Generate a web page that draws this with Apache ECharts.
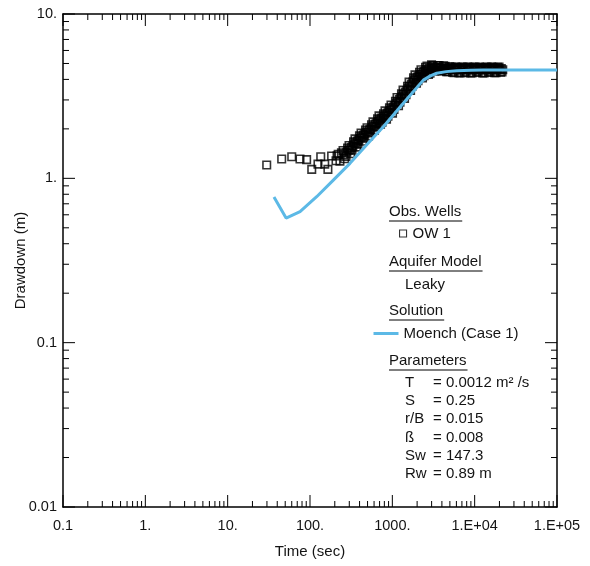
<!DOCTYPE html>
<html><head><meta charset="utf-8">
<script src="https://cdn.jsdelivr.net/npm/echarts@6/dist/echarts.min.js"></script>
<style>html,body{margin:0;padding:0;background:#fff}#c{width:590px;height:566px}</style>
</head><body><div id="c"></div>
<script>
// Observed drawdown, OW 1 (time in sec, drawdown in m)
const timeObs = [29.8, 45.3, 60, 75.6, 91, 105, 125, 135, 151, 165, 183, 207, 220,
  213, 231, 252, 274, 298, 324, 352, 383, 417, 453, 493, 536, 582, 634, 689, 750, 815, 885, 964, 1047,
  1140, 1239, 1349, 1466, 1596, 1734, 1884, 2051, 2228, 2427, 2636, 2871,
  3119, 3388, 3690, 4009, 4365, 4742, 5164, 5610, 6109, 6637, 7211, 7852, 8531, 9290, 10090, 10990,
  11940, 13000, 14130, 15350, 16710, 18160, 19770, 21480,
  241, 263, 286, 311, 338, 367, 399, 435, 472, 514, 559, 607, 661, 719, 782, 850, 923, 1005, 1092,
  1189, 1292, 1407, 1529, 1665, 1809, 1965, 2139, 2324, 2531, 2749, 2995,
  3253, 3534, 3849, 4181, 4553, 4946, 5386, 5851, 6372, 6922, 7521, 8190, 8898, 9689, 10520, 11460,
  12450, 13560, 14740, 16010, 17430, 18940, 20620,
  257, 280, 304, 331, 360, 391, 426, 463, 504, 548, 595, 648, 704, 766, 833, 904, 985, 1070,
  1165, 1266, 1378, 1498, 1630, 1771, 1925, 2095, 2276, 2479, 2693, 2933,
  3186, 3461, 3769, 4095, 4459, 4844, 5275, 5731, 6240, 6780, 7366, 8021, 8714, 9490, 10310, 11230,
  12200, 13280, 14430, 15680, 17070, 18550, 20200, 21940,
  292, 317, 345, 375, 408, 444, 482, 525, 571, 620, 675, 733, 798, 868, 942, 1026, 1115,
  1214, 1319, 1436, 1561, 1699, 1846, 2006, 2183, 2372, 2584, 2806, 3056,
  3320, 3607, 3928, 4268, 4647, 5048, 5497, 5972, 6503, 7065, 7676, 8359, 9081, 9889, 10740, 11700,
  12710, 13840, 15040, 16340, 17790, 19330, 21050];
const drawObs = [1.205, 1.31, 1.354, 1.31, 1.30, 1.134, 1.22, 1.354, 1.22, 1.134, 1.367, 1.28, 1.40,
  1.369, 1.272, 1.476, 1.361, 1.584, 1.483, 1.738, 1.614, 1.889, 1.755, 2.032, 1.888, 2.205, 2.048, 2.398, 2.196, 2.572, 2.389, 2.797, 2.621,
  3.103, 2.907, 3.442, 3.229, 3.850, 3.639, 4.260, 3.929, 4.581, 4.216, 4.819, 4.366,
  4.85, 4.52, 4.86, 4.50, 4.80, 4.45, 4.76, 4.40, 4.74, 4.38, 4.76, 4.42, 4.74, 4.38, 4.76, 4.42,
  4.72, 4.38, 4.76, 4.42, 4.74, 4.40, 4.76, 4.44,
  1.428, 1.315, 1.527, 1.411, 1.666, 1.548, 1.812, 1.683, 1.970, 1.810, 2.120, 1.964, 2.299, 2.136, 2.466, 2.291, 2.682, 2.492, 2.943,
  2.764, 3.264, 3.066, 3.626, 3.429, 4.085, 3.794, 4.411, 4.081, 4.733, 4.293, 4.90,
  4.50, 4.86, 4.52, 4.84, 4.46, 4.78, 4.42, 4.75, 4.40, 4.74, 4.40, 4.76, 4.38, 4.74, 4.42, 4.76,
  4.38, 4.74, 4.42, 4.76, 4.40, 4.74, 4.42,
  1.391, 1.440, 1.493, 1.570, 1.638, 1.708, 1.781, 1.857, 1.916, 1.998, 2.079, 2.167, 2.260, 2.324, 2.424, 2.528, 2.637, 2.774,
  2.925, 3.077, 3.245, 3.417, 3.629, 3.850, 4.016, 4.158, 4.318, 4.461, 4.543, 4.620,
  4.66, 4.68, 4.66, 4.64, 4.62, 4.60, 4.58, 4.57, 4.59, 4.58, 4.56, 4.58, 4.59, 4.57, 4.58, 4.56,
  4.58, 4.59, 4.57, 4.58, 4.56, 4.58, 4.57, 4.58,
  1.483, 1.538, 1.617, 1.687, 1.759, 1.834, 1.913, 1.973, 2.058, 2.141, 2.232, 2.328, 2.394, 2.497, 2.604, 2.716, 2.857,
  3.013, 3.169, 3.342, 3.520, 3.738, 3.966, 4.136, 4.283, 4.448, 4.595, 4.679, 4.759,
  4.74, 4.72, 4.70, 4.68, 4.67, 4.66, 4.66, 4.67, 4.65, 4.66, 4.67, 4.65, 4.66, 4.67, 4.65, 4.66,
  4.67, 4.65, 4.66, 4.67, 4.65, 4.66, 4.66];
// Moench (Case 1) fitted curve
const timeFit = [36.5, 51.2, 75.7, 120.5, 192, 306, 489, 777, 1359, 2377, 2900, 3458, 4500, 6050, 9000, 12600, 100000];
const drawFit = [0.769, 0.573, 0.627, 0.773, 0.976, 1.234, 1.60, 2.06, 2.86, 3.96, 4.20, 4.36, 4.46, 4.52, 4.55, 4.56, 4.56];

const xTickLabels = {"-1":"0.1","0":"1.","1":"10.","2":"100.","3":"1000.","4":"1.E+04","5":"1.E+05"};
const yTickLabels = {"-2":"0.01","-1":"0.1","0":"1.","1":"10."};
const minorMult = [2,3,4,5,6,7,8,9];
const xDecades = [0.1,1,10,100,1000,10000];
const yDecades = [0.01,0.1,1];
const xMajor = [0.1,1,10,100,1000,10000,100000];
const yMajor = [0.01,0.1,1,10];

const headings = ["Obs. Wells", "Aquifer Model", "Solution", "Parameters"];
const headingY = [212, 262, 311, 361];
const modelText = "Leaky";
const paramNames = ["T", "S", "r/B", "ß", "Sw", "Rw"];
const paramValues = ["= 0.0012 m² /s", "= 0.25", "= 0.015", "= 0.008", "= 147.3", "= 0.89 m"];
const paramY = [382.5, 400.5, 419, 437.5, 455.5, 474];

const FONT = "Liberation Sans, Arial, Helvetica, sans-serif";
const TXT = '#141414';

// tick marks: [value, length]
const xTicks = [], yTicks = [];
xMajor.forEach(v => xTicks.push([v, 12]));
yMajor.forEach(v => yTicks.push([v, 12]));
xDecades.forEach(d => minorMult.forEach(m => xTicks.push([+(d*m).toPrecision(3), 6])));
yDecades.forEach(d => minorMult.forEach(m => yTicks.push([+(d*m).toPrecision(3), 6])));

const X0 = 0.1, X1 = 100000, Y0 = 0.01, Y1 = 10;

const ctx = document.createElement('canvas').getContext('2d');
ctx.font = '15px ' + FONT;

const graphics = [];
headings.forEach((h, i) => {
  graphics.push({type:'text', x:389, y:headingY[i], style:{text:h, font:'15px ' + FONT, fill:TXT, verticalAlign:'middle', textVerticalAlign:'middle'}});
  const w = ctx.measureText(h).width;
  graphics.push({type:'line', shape:{x1:389, y1:headingY[i]+9, x2:389+w+1, y2:headingY[i]+9}, style:{stroke:'#000', lineWidth:1}});
});
graphics.push({type:'text', x:405, y:285, style:{text:modelText, font:'15px ' + FONT, fill:TXT, verticalAlign:'middle', textVerticalAlign:'middle'}});
paramNames.forEach((p, i) => {
  graphics.push({type:'text', x:405, y:paramY[i], style:{text:p, font:'15px ' + FONT, fill:TXT, verticalAlign:'middle', textVerticalAlign:'middle'}});
  graphics.push({type:'text', x:433, y:paramY[i], style:{text:paramValues[i], font:'15px ' + FONT, fill:TXT, verticalAlign:'middle', textVerticalAlign:'middle'}});
});

function lab(map){ return v => { const k = Math.round(Math.log10(v)); return map[String(k)] || ''; }; }

const axisCommon = {
  type:'log', logBase:10, interval:1,
  axisLine:{show:true, onZero:false, lineStyle:{color:'#000', width:1.5}},
  axisTick:{show:false},
  splitLine:{show:false}, minorTick:{show:false}, minorSplitLine:{show:false}
};

const chart = echarts.init(document.getElementById('c'), null, {renderer:'canvas'});
chart.setOption({
  animation:false,
  backgroundColor:'#fff',
  grid:{left:63, top:14, right:33, bottom:59, containLabel:false, outerBoundsMode:'none'},
  xAxis:[
    Object.assign({}, axisCommon, {min:X0, max:X1, position:'bottom',
      axisLabel:{formatter:lab(xTickLabels), fontSize:14.5, color:TXT, margin:11, fontFamily:FONT},
      name:'Time (sec)', nameLocation:'middle', nameGap:37, nameMoveOverlap:false,
      nameTextStyle:{fontSize:15, color:TXT, fontFamily:FONT}}),
    Object.assign({}, axisCommon, {min:X0, max:X1, position:'top', axisLabel:{show:false}})
  ],
  yAxis:[
    Object.assign({}, axisCommon, {min:Y0, max:Y1, position:'left',
      axisLabel:{formatter:lab(yTickLabels), fontSize:14.5, color:TXT, margin:6, fontFamily:FONT},
      name:'Drawdown (m)', nameLocation:'middle', nameGap:35, nameMoveOverlap:false,
      nameTextStyle:{fontSize:15, color:TXT, fontFamily:FONT}}),
    Object.assign({}, axisCommon, {min:Y0, max:Y1, position:'right', axisLabel:{show:false}})
  ],
  legend:[
    {data:['OW 1'], left:399, top:226, padding:0, itemWidth:7, itemHeight:7, itemGap:0, selectedMode:false,
      itemStyle:{borderWidth:1.1},
      textStyle:{fontSize:15, color:TXT, fontFamily:FONT, padding:[0,0,0,1]}},
    {data:['Moench (Case 1)'], left:372, top:326, padding:0, itemWidth:25, itemHeight:14, selectedMode:false,
      itemStyle:{opacity:0}, lineStyle:{width:3},
      textStyle:{fontSize:15, color:TXT, fontFamily:FONT, padding:0}}
  ],
  graphic: graphics,
  series:[
    {name:'OW 1', type:'scatter', data: timeObs.map((t,i)=>[t, drawObs[i]]), symbol:'rect', symbolSize:7.5,
      itemStyle:{color:'rgba(255,255,255,0)', borderColor:'#000', borderWidth:1.6}, z:2},
    {name:'Moench (Case 1)', type:'line', data: timeFit.map((t,i)=>[t, drawFit[i]]), symbol:'none', smooth:false,
      lineStyle:{color:'#5cb9e6', width:3}, itemStyle:{color:'#5cb9e6'}, z:3},
    {name:'xticks', type:'custom', data:xTicks, clip:false, silent:true, z:4,
      renderItem:(params, api) => {
        const v = api.value(0), L = api.value(1);
        const b = api.coord([v, Y0]), t = api.coord([v, Y1]);
        return {type:'group', children:[
          {type:'line', shape:{x1:b[0], y1:b[1], x2:b[0], y2:b[1]-L}, style:{stroke:'#000', lineWidth:1}},
          {type:'line', shape:{x1:t[0], y1:t[1], x2:t[0], y2:t[1]+L}, style:{stroke:'#000', lineWidth:1}}
        ]};
      }},
    {name:'yticks', type:'custom', data:yTicks.map(d=>[X0, d[0], d[1]]), clip:false, silent:true, z:4,
      renderItem:(params, api) => {
        const v = api.value(1), L = api.value(2);
        const l = api.coord([X0, v]), r = api.coord([X1, v]);
        return {type:'group', children:[
          {type:'line', shape:{x1:l[0], y1:l[1], x2:l[0]+L, y2:l[1]}, style:{stroke:'#000', lineWidth:1}},
          {type:'line', shape:{x1:r[0], y1:r[1], x2:r[0]-L, y2:r[1]}, style:{stroke:'#000', lineWidth:1}}
        ]};
      }}
  ]
});
</script></body></html>
